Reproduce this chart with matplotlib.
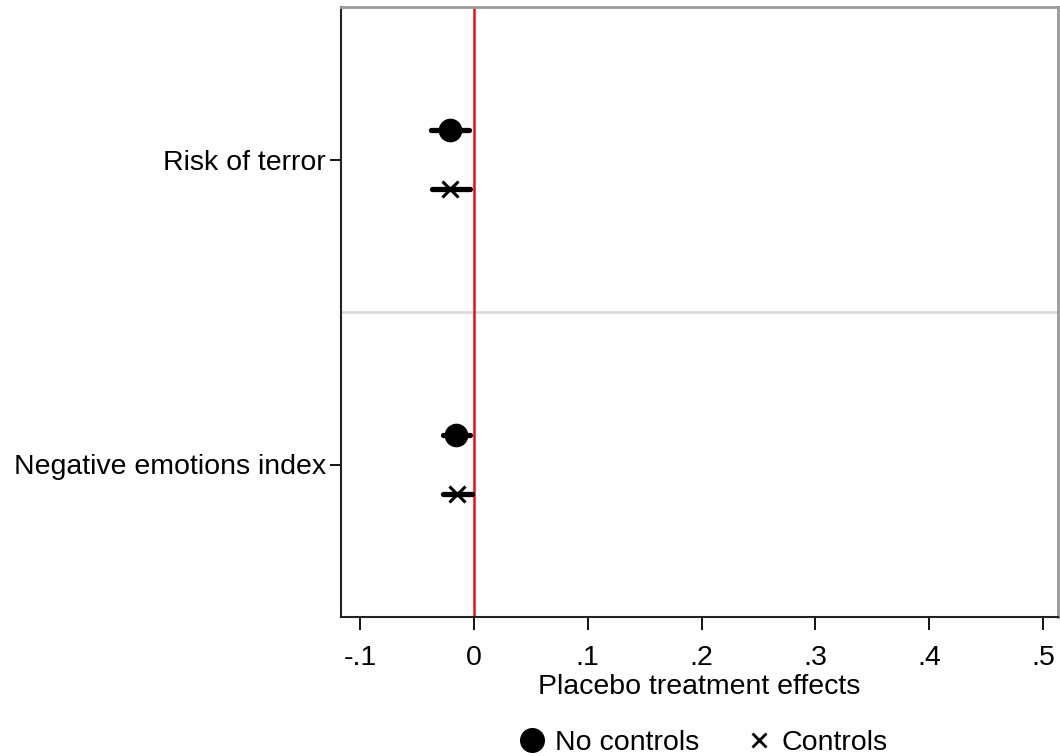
import matplotlib
matplotlib.use("Agg")
import matplotlib.pyplot as plt

plt.rcParams['font.family'] = ['Liberation Sans', 'DejaVu Sans']

outcomes = ["Risk of terror", "Negative emotions index"]
est_no_controls = [-0.021, -0.016]
ci_no_controls_lo = [-0.038, -0.027]
ci_no_controls_hi = [-0.004, -0.003]
est_controls = [-0.021, -0.015]
ci_controls_lo = [-0.037, -0.027]
ci_controls_hi = [-0.003, -0.002]
xticks = [-0.1, 0, 0.1, 0.2, 0.3, 0.4, 0.5]
xtick_labels = ["-.1", "0", ".1", ".2", ".3", ".4", ".5"]

FS = 20.5

fig = plt.figure(figsize=(10.6, 7.56), dpi=100)
ax = fig.add_axes([341 / 1060, 1 - 617 / 756, (1058 - 341) / 1060, (617 - 7) / 756])

centers = [1, 0]
off = 0.098
for i, c in enumerate(centers):
    y1 = c + off
    y2 = c - off
    ax.plot([ci_no_controls_lo[i], ci_no_controls_hi[i]], [y1, y1], color="black", lw=3.8,
            solid_capstyle="round", zorder=3)
    ax.plot(est_no_controls[i], y1, "o", color="black", ms=16, zorder=4)
    ax.plot([ci_controls_lo[i], ci_controls_hi[i]], [y2, y2], color="black", lw=3.8,
            solid_capstyle="round", zorder=3)
    ax.plot(est_controls[i], y2, "x", color="black", ms=12, mew=2.2, zorder=4)

ax.axhline(0.5, color="#dcdcdc", lw=2, zorder=1)
ax.axvline(0, color="#e8101a", lw=1.8, zorder=2)

ax.set_xlim(-0.1167, 0.513)
ax.set_ylim(-0.5, 1.5)
ax.set_yticks(centers)
ax.set_yticklabels(outcomes, fontsize=FS)
ax.set_xticks(xticks)
ax.set_xticklabels(xtick_labels, fontsize=FS)
ax.tick_params(axis="x", length=9.5, width=1.3, pad=11)
ax.tick_params(axis="y", length=8, width=1.3, pad=3)
ax.set_xlabel("Placebo treatment effects", fontsize=FS, labelpad=2)

for side in ["left", "bottom"]:
    ax.spines[side].set_color("#222222")
    ax.spines[side].set_linewidth(1.5)
for side in ["top", "right"]:
    ax.spines[side].set_color("#999999")
    ax.spines[side].set_linewidth(2)

h1 = ax.plot([], [], "o", color="black", ms=17)[0]
h2 = ax.plot([], [], "x", color="black", ms=10, mew=2)[0]
fig.legend([h1, h2], ["No controls", "Controls"], loc="center", ncol=2,
           bbox_to_anchor=(703 / 1060, 1 - 743 / 756), frameon=False,
           fontsize=FS, handletextpad=0.3, columnspacing=1.6, handlelength=1.0)

fig.savefig("out.png", dpi=100)
